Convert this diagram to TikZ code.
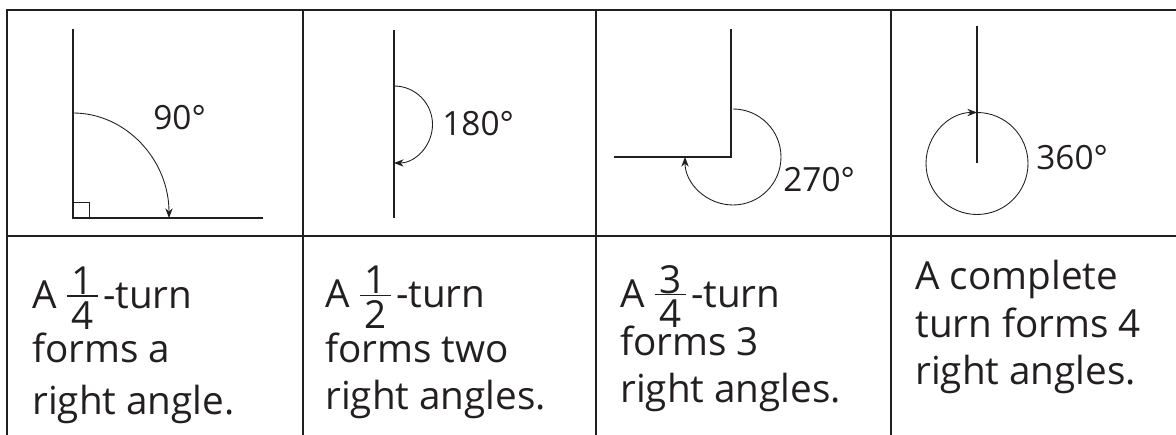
\documentclass[tikz,border=0pt]{standalone}
\usepackage{fontspec}
\setmainfont{Open Sans}
\setsansfont{Open Sans}
\usetikzlibrary{arrows.meta}
\definecolor{ink}{HTML}{231F20}
% stacked fraction in the text font
\newcommand\turnfrac[2]{%
  \makebox[17.6pt]{\raisebox{7.9pt}{#1}}\hspace{-17.6pt}%
  \rule[6.6pt]{17.6pt}{0.8pt}\hspace{-17.6pt}%
  \makebox[17.6pt]{\raisebox{-11.9pt}{#2}}\hspace{3pt}}
\newcommand\fixedlines{\lineskiplimit=-100pt\relax}

\begin{document}
\begin{tikzpicture}[x=0.02cm,y=0.02cm,>={Stealth[length=5.5pt,width=4.2pt]},font=\sffamily,
  grid/.style={draw=ink,line width=0.8pt},
  leg/.style={draw=ink,line width=0.7pt},
  turn/.style={->,draw=ink,line width=0.5pt},
  deg/.style={anchor=west,inner sep=0pt,text=ink,font=\sffamily\fontsize{19}{23}\selectfont},
  cell/.style={anchor=base west,align=left,inner sep=0pt,text=ink,
    font=\sffamily\fontsize{22}{27.3}\selectfont\fixedlines}]
\useasboundingbox (0,0) rectangle (1176,435);
% table
\draw[grid] (1176,425) -- (7,425) -- (7,0);
\draw[grid] (7,199) -- (1176,199);
\foreach \x in {303,596,891} \draw[grid] (\x,425) -- (\x,0);
% quarter turn
\coordinate (o1) at (73,217);
\draw[leg] (73,406) -- (o1) -- (263,217);
\draw[ink,line width=0.5pt] (o1) rectangle (89,233);
\draw[turn] (73,322) arc[start angle=90,end angle=0,x radius=96,y radius=105];
\node[deg] (d90) at (153,317) {90°};
% half turn
\coordinate (o2) at (394,310.5);
\draw[leg] (394,217) -- (394,405);
\draw[turn] (394,349) arc[start angle=90,end angle=-90,radius=38.5];
\node[deg] (d180) at (442,311) {180°};
% three quarter turn
\coordinate (o3) at (731,278);
\draw[leg] (614,278) -- (o3) -- (731,406);
\draw[turn] (733,326) arc[start angle=90,end angle=-180,radius=48];
\node[deg] (d270) at (783,255) {270°};
% complete turn
\coordinate (o4) at (977,271.5);
\draw[leg] (o4) -- (977,409);
\draw[turn] (977,322.5) arc[start angle=90,end angle=-270,radius=51];
\node[deg] (d360) at (1036,277) {360°};
% captions
\node[cell] (t1) at (32,20) {A \turnfrac{1}{4}-turn\\[3.7pt] forms a\\[2.5pt] right angle.};
\node[cell] (t2) at (325,25) {A \turnfrac{1}{2}-turn\\[3.7pt] forms two\\ right angles.};
\node[cell] (t3) at (620,32) {A \turnfrac{3}{4}-turn\\ forms 3\\ right angles.};
\node[cell] (t4) at (915,50) {A complete\\ turn forms 4\\ right angles.};
\end{tikzpicture}
\end{document}
